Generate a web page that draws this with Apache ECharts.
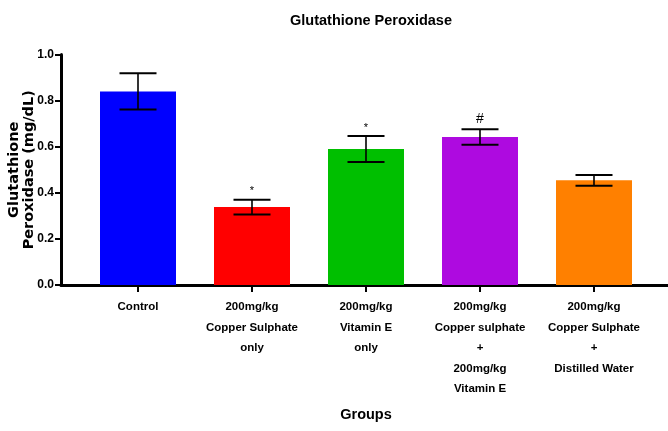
<!DOCTYPE html>
<html>
<head>
<meta charset="utf-8">
<script src="https://cdn.jsdelivr.net/npm/echarts@6/dist/echarts.min.js"></script>
<style>html,body{margin:0;padding:0;background:#fff;}#c{width:668px;height:431px;}</style>
</head>
<body>
<div id="c"></div>
<script>
const categories = [
  "Control",
  "200mg/kg\nCopper Sulphate\nonly",
  "200mg/kg\nVitamin E\nonly",
  "200mg/kg\nCopper sulphate\n+\n200mg/kg\nVitamin E",
  "200mg/kg\nCopper Sulphate\n+\nDistilled Water"
];
const means = [0.84, 0.338, 0.59, 0.642, 0.454];
const errors = [0.079, 0.032, 0.056, 0.034, 0.023];
const marks = ["", "*", "*", "#", ""];
const barColors = ["#0000ff", "#ff0000", "#00bf00", "#ae0ae0", "#ff8000"];
const yTicks = [0, 0.2, 0.4, 0.6, 0.8, 1.0];

const NARROW = "'Liberation Sans Narrow', 'Arial Narrow', 'Liberation Sans', Arial, sans-serif";

const chart = echarts.init(document.getElementById('c'), null, {renderer: 'canvas'});
chart.setOption({
  animation: false,
  backgroundColor: '#fff',
  title: {
    text: 'Glutathione Peroxidase',
    left: 366, top: 8, textAlign: 'center',
    textStyle: {fontFamily: NARROW, fontWeight: 'bold', fontSize: 14.5, color: '#000'}
  },
  grid: [
    {left: 81, right: 17, top: 54.5, bottom: 146, outerBoundsMode: 'none', containLabel: false},
    {left: 61, right: 0, top: 54.5, bottom: 146, outerBoundsMode: 'none', containLabel: false}
  ],
  xAxis: [
    {
      type: 'category', gridIndex: 0, data: categories,
      axisLine: {show: false},
      axisTick: {show: true, alignWithLabel: true, length: 7, lineStyle: {color: '#000', width: 2}},
      axisLabel: {fontFamily: NARROW, fontWeight: 'bold', fontSize: 11.5, color: '#000', lineHeight: 20.5, margin: 12, interval: 0},
      name: 'Groups', nameLocation: 'middle', nameGap: 122, nameMoveOverlap: false,
      nameTextStyle: {fontFamily: NARROW, fontWeight: 'bold', fontSize: 14.5, color: '#000'}
    },
    {
      type: 'value', gridIndex: 1, min: 0, max: 1,
      axisLine: {show: true, onZero: false, lineStyle: {color: '#000', width: 3}},
      axisTick: {show: false}, axisLabel: {show: false}, splitLine: {show: false}
    }
  ],
  yAxis: [
    {
      type: 'value', gridIndex: 0, min: 0, max: 1, interval: 0.2, offset: 20,
      axisLine: {show: true, lineStyle: {color: '#000', width: 3}},
      axisTick: {show: true, length: 6, lineStyle: {color: '#000', width: 2}},
      splitLine: {show: false},
      axisLabel: {fontFamily: NARROW, fontWeight: 'bold', fontSize: 12, color: '#000', margin: 7,
        formatter: v => v.toFixed(1)},
      name: 'Glutathione\nPeroxidase (mg/dL)', nameLocation: 'middle', nameRotate: 90, nameGap: 24,
      nameMoveOverlap: false,
      nameTextStyle: {fontFamily: "'DejaVu Sans', sans-serif", fontWeight: 'bold', fontSize: 14.5, color: '#000', lineHeight: 15}
    },
    {type: 'value', gridIndex: 1, min: 0, max: 1, show: false}
  ],
  series: [
    {
      type: 'bar', xAxisIndex: 0, yAxisIndex: 0, barWidth: 76,
      data: means.map((v, i) => ({value: v, itemStyle: {color: barColors[i]}}))
    },
    {
      type: 'custom', xAxisIndex: 0, yAxisIndex: 0, z: 5,
      data: means.map((v, i) => [i, v, errors[i], marks[i]]),
      renderItem: function (params, api) {
        const x = api.coord([api.value(0), 0])[0];
        const m = api.value(1), e = api.value(2);
        const top = api.coord([api.value(0), m + e])[1];
        const bot = api.coord([api.value(0), m - e])[1];
        const hw = 18.5;
        const mk = marks[params.dataIndex];
        const children = [
          {type: 'line', shape: {x1: x, y1: top, x2: x, y2: bot}, style: {stroke: '#000', lineWidth: 1.6}},
          {type: 'line', shape: {x1: x - hw, y1: top, x2: x + hw, y2: top}, style: {stroke: '#000', lineWidth: 2}},
          {type: 'line', shape: {x1: x - hw, y1: bot, x2: x + hw, y2: bot}, style: {stroke: '#000', lineWidth: 2}}
        ];
        if (mk) {
          children.push({type: 'text', style: {
            text: mk, x: x, y: top - 3, align: 'center', verticalAlign: 'bottom',
            font: (mk === '#' ? '14px' : '11px') + " 'Liberation Sans', Arial, sans-serif", fill: '#000'
          }});
        }
        return {type: 'group', children: children};
      }
    }
  ]
});
</script>
</body>
</html>
